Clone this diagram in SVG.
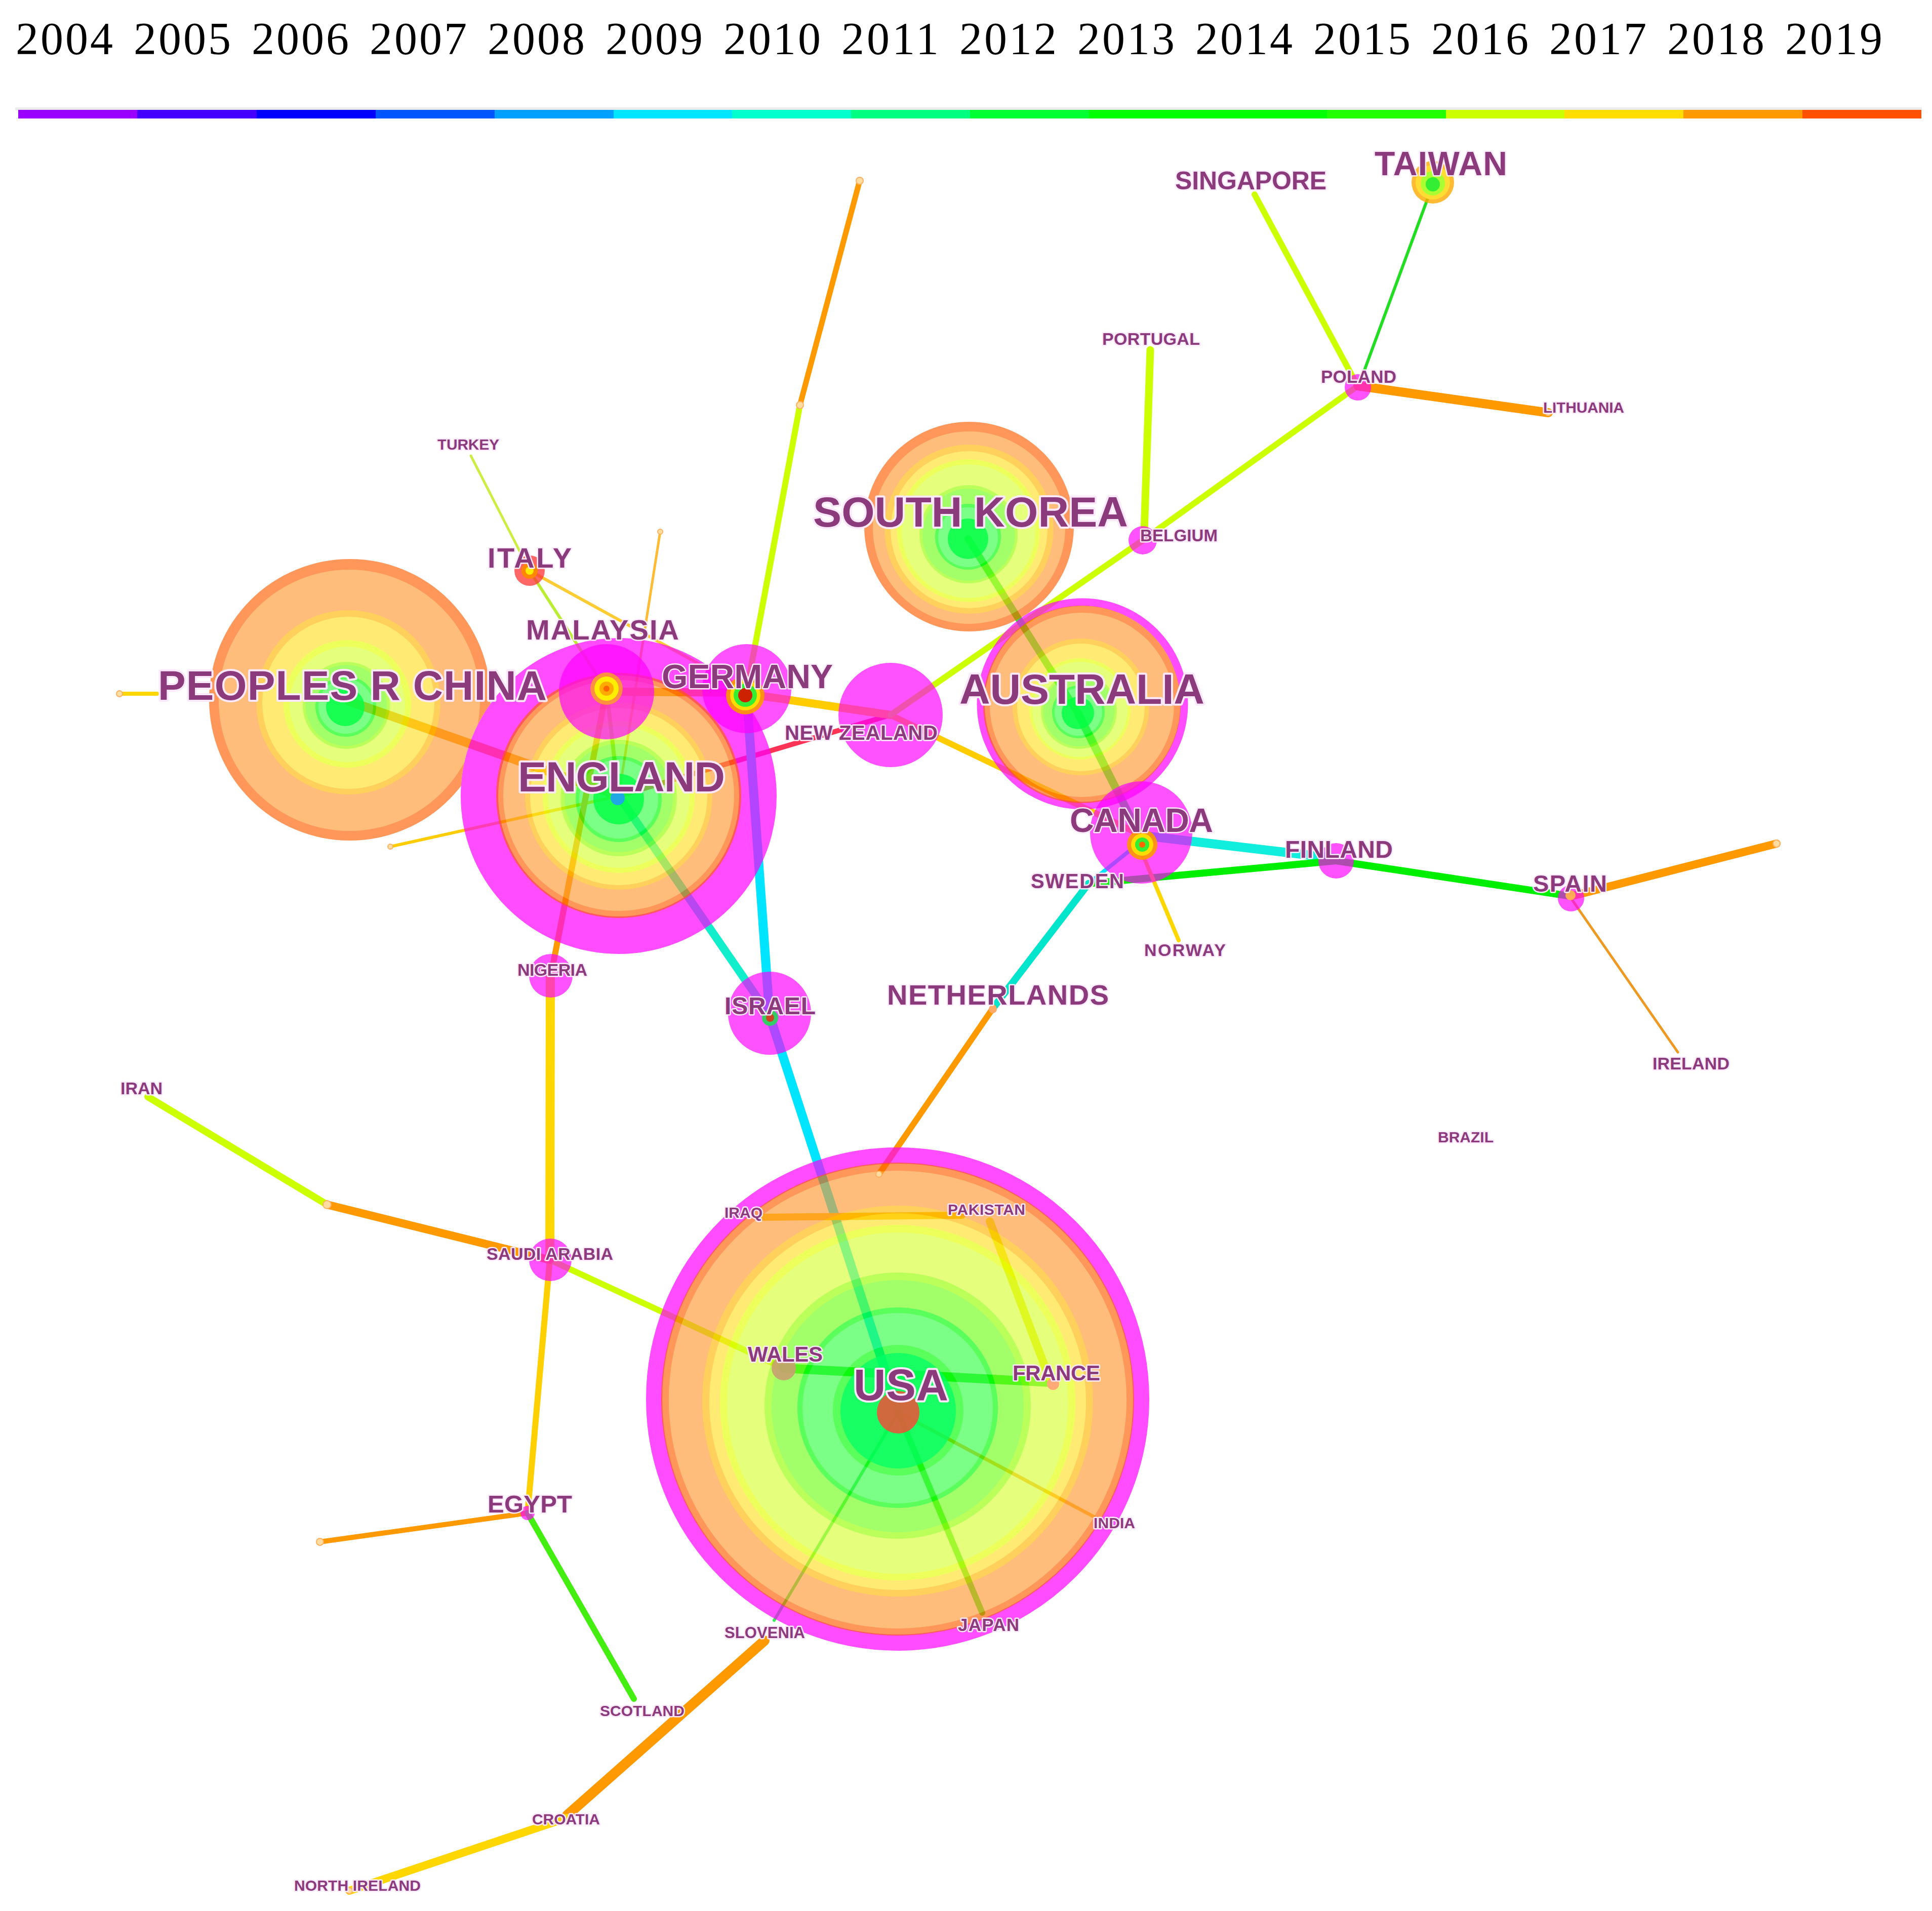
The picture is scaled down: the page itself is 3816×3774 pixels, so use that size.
<svg xmlns="http://www.w3.org/2000/svg" width="3816" height="3774" viewBox="0 0 3816 3774">
<style>
.yr{font-family:"Liberation Serif","DejaVu Serif",serif;font-size:90px;fill:#000;text-anchor:middle}
.lbl{font-family:"Liberation Sans",Arial,sans-serif;font-weight:bold;fill:#8b3a7c;stroke:#fbe9fb;stroke-width:5px;stroke-linejoin:round;paint-order:stroke}
.big{stroke-width:8px}
.ln{fill:none;stroke-linecap:round}
.mg{fill:#ff00ff;opacity:0.68}
.mga{fill:none;stroke:#ff00ff;opacity:0.7}
.rings{opacity:0.64}
.OR{fill:#ff5e00}.LO{fill:#ff9932}.YE{fill:#ffb600}.LY{fill:#ffe025}.YG{fill:#e4ff00}.PY{fill:#d7ff35}.LR{fill:#96ff00}.LG{fill:#6eff15}.GR{fill:#00ff00}.GB{fill:#33ff44}
.core{fill:#00ff44;opacity:0.8}
.dot{fill:#ffdca0;stroke:#ffb060;stroke-width:2px}
</style>
<defs>
<mask id="chinaMask" maskUnits="userSpaceOnUse" x="0" y="0" width="3816" height="3774">
<rect x="0" y="0" width="3816" height="3774" fill="#fff"/>
<circle cx="1222" cy="1572" r="312" fill="#000"/>
</mask>
</defs>
<rect width="3816" height="3774" fill="#fff"/>

<g id="legend">
<rect x="30" y="212" width="3766" height="6" fill="#ececec"/>
<rect x="36" y="217" width="236" height="17" fill="#9900ff"/>
<rect x="271" y="217" width="237" height="17" fill="#4400ff"/>
<rect x="507" y="217" width="236" height="17" fill="#0000ff"/>
<rect x="742" y="217" width="236" height="17" fill="#0055ff"/>
<rect x="977" y="217" width="236" height="17" fill="#00a0ff"/>
<rect x="1212" y="217" width="235" height="17" fill="#00e5ff"/>
<rect x="1446" y="217" width="236" height="17" fill="#00ffcc"/>
<rect x="1681" y="217" width="236" height="17" fill="#00ff80"/>
<rect x="1916" y="217" width="236" height="17" fill="#00ff33"/>
<rect x="2151" y="217" width="471" height="17" fill="#00ff00"/>
<rect x="2621" y="217" width="236" height="17" fill="#22ff00"/>
<rect x="2856" y="217" width="235" height="17" fill="#ccff00"/>
<rect x="3090" y="217" width="236" height="17" fill="#ffdd00"/>
<rect x="3325" y="217" width="236" height="17" fill="#ff9900"/>
<rect x="3560" y="217" width="235" height="17" fill="#ff5000"/>
<text class="yr" x="127" y="107" textLength="192">2004</text>
<text class="yr" x="360" y="107" textLength="192">2005</text>
<text class="yr" x="593" y="107" textLength="192">2006</text>
<text class="yr" x="826" y="107" textLength="192">2007</text>
<text class="yr" x="1059" y="107" textLength="192">2008</text>
<text class="yr" x="1292" y="107" textLength="192">2009</text>
<text class="yr" x="1525" y="107" textLength="192">2010</text>
<text class="yr" x="1758" y="107" textLength="192">2011</text>
<text class="yr" x="1991" y="107" textLength="192">2012</text>
<text class="yr" x="2224" y="107" textLength="192">2013</text>
<text class="yr" x="2457" y="107" textLength="192">2014</text>
<text class="yr" x="2690" y="107" textLength="192">2015</text>
<text class="yr" x="2923" y="107" textLength="192">2016</text>
<text class="yr" x="3156" y="107" textLength="192">2017</text>
<text class="yr" x="3389" y="107" textLength="192">2018</text>
<text class="yr" x="3622" y="107" textLength="192">2019</text>
</g>

<g id="connectors">
<line class="ln" x1="236" y1="1370" x2="310" y2="1370" stroke="#ffd700" stroke-width="8"/>
<line class="ln" x1="690" y1="1385" x2="1222" y2="1572" stroke="#ff9900" stroke-width="18"/>
<line class="ln" x1="1222" y1="1572" x2="771" y2="1672" stroke="#ffcc00" stroke-width="6"/>
<line class="ln" x1="1222" y1="1572" x2="1759" y2="1412" stroke="#ff3355" stroke-width="10"/>
<line class="ln" x1="1222" y1="1572" x2="1520" y2="2005" stroke="#11eecc" stroke-width="16"/>
<line class="ln" x1="1222" y1="1572" x2="1304" y2="1050" stroke="#ffbb33" stroke-width="5"/>
<line class="ln" x1="1198" y1="1363" x2="1088" y2="1927" stroke="#ff9900" stroke-width="12"/>
<line class="ln" x1="1198" y1="1363" x2="1222" y2="1572" stroke="#aadd33" stroke-width="8"/>
<line class="ln" x1="1046" y1="1127" x2="1198" y2="1363" stroke="#bbee33" stroke-width="6"/>
<line class="ln" x1="1046" y1="1127" x2="1475" y2="1363" stroke="#ffcc33" stroke-width="6"/>
<line class="ln" x1="930" y1="900" x2="1040" y2="1115" stroke="#ccee44" stroke-width="5"/>
<line class="ln" x1="1198" y1="1366" x2="1475" y2="1368" stroke="#ff9900" stroke-width="16"/>
<line class="ln" x1="1475" y1="1370" x2="1759" y2="1412" stroke="#ffcc00" stroke-width="16"/>
<line class="ln" x1="1759" y1="1412" x2="2256" y2="1650" stroke="#ffcc00" stroke-width="12"/>
<line class="ln" x1="1475" y1="1363" x2="1580" y2="800" stroke="#ccff00" stroke-width="12"/>
<line class="ln" x1="1580" y1="800" x2="1698" y2="357" stroke="#ff9900" stroke-width="11"/>
<line class="ln" x1="1475" y1="1375" x2="1520" y2="2005" stroke="#00e5ff" stroke-width="18"/>
<line class="ln" x1="1520" y1="2005" x2="1774" y2="2785" stroke="#00e5ff" stroke-width="18"/>
<line class="ln" x1="1759" y1="1412" x2="2257" y2="1067" stroke="#ccff00" stroke-width="12"/>
<line class="ln" x1="2257" y1="1067" x2="2682" y2="762" stroke="#ccff00" stroke-width="12"/>
<line class="ln" x1="2272" y1="691" x2="2260" y2="1050" stroke="#ccff00" stroke-width="15"/>
<line class="ln" x1="2478" y1="384" x2="2675" y2="750" stroke="#ccff00" stroke-width="12"/>
<line class="ln" x1="2828" y1="370" x2="2688" y2="750" stroke="#22dd22" stroke-width="6"/>
<line class="ln" x1="2682" y1="762" x2="3058" y2="815" stroke="#ff9900" stroke-width="18"/>
<line class="ln" x1="1912" y1="1064" x2="2129" y2="1408" stroke="#33ee33" stroke-width="14"/>
<line class="ln" x1="2129" y1="1408" x2="2256" y2="1660" stroke="#22ee44" stroke-width="16"/>
<line class="ln" x1="2256" y1="1650" x2="2639" y2="1695" stroke="#11eedd" stroke-width="18"/>
<line class="ln" x1="2150" y1="1745" x2="2639" y2="1700" stroke="#00ee00" stroke-width="14"/>
<line class="ln" x1="2639" y1="1700" x2="3103" y2="1770" stroke="#00ee00" stroke-width="14"/>
<line class="ln" x1="2256" y1="1660" x2="2150" y2="1745" stroke="#00e5ff" stroke-width="8"/>
<line class="ln" x1="2150" y1="1745" x2="1962" y2="1990" stroke="#00e5cc" stroke-width="14"/>
<line class="ln" x1="1962" y1="1990" x2="1736" y2="2319" stroke="#ff9900" stroke-width="12"/>
<line class="ln" x1="2258" y1="1690" x2="2328" y2="1857" stroke="#ffd700" stroke-width="8"/>
<line class="ln" x1="3103" y1="1770" x2="3509" y2="1666" stroke="#ff9900" stroke-width="16"/>
<line class="ln" x1="3103" y1="1774" x2="3314" y2="2078" stroke="#ee9922" stroke-width="5"/>
<line class="ln" x1="1087" y1="1927" x2="1086" y2="2488" stroke="#ffd700" stroke-width="18"/>
<line class="ln" x1="1086" y1="2488" x2="1042" y2="2988" stroke="#ffd000" stroke-width="12"/>
<line class="ln" x1="1086" y1="2488" x2="1548" y2="2702" stroke="#ccff00" stroke-width="12"/>
<line class="ln" x1="1086" y1="2488" x2="646" y2="2379" stroke="#ff9900" stroke-width="16"/>
<line class="ln" x1="646" y1="2379" x2="292" y2="2166" stroke="#ccff00" stroke-width="14"/>
<line class="ln" x1="1042" y1="2988" x2="632" y2="3045" stroke="#ff9900" stroke-width="10"/>
<line class="ln" x1="1042" y1="2988" x2="1252" y2="3355" stroke="#44ee11" stroke-width="12"/>
<line class="ln" x1="1548" y1="2702" x2="2075" y2="2730" stroke="#22ee22" stroke-width="18"/>
<line class="ln" x1="1500" y1="2404" x2="1900" y2="2400" stroke="#ffbb00" stroke-width="14"/>
<line class="ln" x1="1955" y1="2412" x2="2072" y2="2720" stroke="#eeee00" stroke-width="16"/>
<line class="ln" x1="1774" y1="2789" x2="2160" y2="2995" stroke="#ffaa22" stroke-width="7"/>
<line class="ln" x1="1774" y1="2789" x2="1940" y2="3185" stroke="#44ee22" stroke-width="12"/>
<line class="ln" x1="1774" y1="2789" x2="1529" y2="3200" stroke="#33ee55" stroke-width="6"/>
<line class="ln" x1="1510" y1="3240" x2="1120" y2="3585" stroke="#ff9900" stroke-width="20"/>
<line class="ln" x1="1120" y1="3590" x2="690" y2="3734" stroke="#ffd700" stroke-width="16"/>
</g>

<g id="nodes">
<g id="node-usa">
<circle class="mga" cx="1773" cy="2763" r="481" stroke-width="32"/>
<g class="rings">
<circle class="OR" cx="1773" cy="2763" r="467"/>
<circle class="LO" cx="1773" cy="2764" r="452"/>
<circle class="YE" cx="1773" cy="2767" r="386"/>
<circle class="LY" cx="1773" cy="2768" r="372"/>
<circle class="YG" cx="1773" cy="2770" r="351"/>
<circle class="PY" cx="1773" cy="2771" r="337"/>
<circle class="LR" cx="1773" cy="2776" r="263"/>
<circle class="LG" cx="1773" cy="2777" r="249"/>
<circle class="GR" cx="1773" cy="2780" r="198"/>
<circle class="GB" cx="1773" cy="2781" r="188"/>
<circle class="GR" cx="1774" cy="2785" r="129"/>
</g>
<circle cx="1774" cy="2786" r="114" fill="#00ff66" opacity="0.75"/>
<circle cx="1774" cy="2789" r="42" fill="#ff4433" opacity="0.8"/>
<text class="lbl big" x="1686" y="2765" font-size="88" textLength="187">USA</text>
</g>

<g id="node-england">
<circle class="mga" cx="1222" cy="1572" r="275" stroke-width="74"/>
<g class="rings">
<circle class="OR" cx="1222" cy="1571" r="242"/>
<circle class="LO" cx="1222" cy="1571" r="228"/>
<circle class="YE" cx="1222" cy="1572" r="185"/>
<circle class="LY" cx="1222" cy="1573" r="175"/>
<circle class="YG" cx="1222" cy="1574" r="150"/>
<circle class="PY" cx="1222" cy="1574" r="140"/>
<circle class="LR" cx="1222" cy="1576" r="115"/>
<circle class="LG" cx="1222" cy="1576" r="107"/>
<circle class="GR" cx="1222" cy="1578" r="85"/>
<circle class="GB" cx="1222" cy="1578" r="78"/>
</g>
<circle class="core" cx="1222" cy="1578" r="50"/>
<circle cx="1220" cy="1576" r="14" fill="#2299ff" opacity="0.85"/>
<text class="lbl big" x="1023" y="1563" font-size="84" textLength="409">ENGLAND</text>
</g>

<g id="node-china">
<g class="rings" mask="url(#chinaMask)">
<circle class="OR" cx="691" cy="1382" r="278"/>
<circle class="LO" cx="690" cy="1383" r="258"/>
<circle class="YE" cx="688" cy="1387" r="182"/>
<circle class="LY" cx="688" cy="1388" r="170"/>
<circle class="YG" cx="686" cy="1390" r="126"/>
<circle class="PY" cx="686" cy="1391" r="114"/>
<circle class="LR" cx="684" cy="1393" r="86"/>
<circle class="LG" cx="684" cy="1393" r="80"/>
<circle class="GR" cx="683" cy="1395" r="60"/>
<circle class="GB" cx="683" cy="1395" r="54"/>
</g>
<circle class="core" cx="682" cy="1396" r="38"/>
<text class="lbl big" x="312" y="1382" font-size="82" textLength="768">PEOPLES R CHINA</text>
</g>

<g id="node-malaysia">
<circle class="mg" cx="1198" cy="1366" r="94"/>
<circle cx="1198" cy="1360" r="32" fill="#ff9933" opacity="0.9"/>
<circle cx="1198" cy="1360" r="24" fill="#ffee00"/>
<circle cx="1198" cy="1360" r="14" fill="#ffaa00"/>
<circle cx="1198" cy="1360" r="6" fill="#ff6600"/>
<text class="lbl" x="1039" y="1263" font-size="56" textLength="302">MALAYSIA</text>
</g>

<g id="node-germany">
<circle class="mg" cx="1475" cy="1360" r="88"/>
<circle cx="1472" cy="1373" r="38" fill="#ff9900" opacity="0.9"/>
<circle cx="1472" cy="1373" r="30" fill="#ffdd00"/>
<circle cx="1472" cy="1373" r="23" fill="#33ee33"/>
<circle cx="1472" cy="1373" r="14" fill="#cc2200"/>
<text class="lbl" x="1307" y="1359" font-size="66" textLength="338">GERMANY</text>
</g>

<g id="node-italy">
<circle cx="1046" cy="1127" r="30" fill="#ff3333" opacity="0.75"/>
<circle cx="1046" cy="1127" r="16" fill="#ff8800"/>
<circle cx="1046" cy="1127" r="8" fill="#ffee00"/>
<text class="lbl" x="963" y="1121" font-size="56" textLength="166">ITALY</text>
</g>

<g id="node-new-zealand">
<circle class="mg" cx="1759" cy="1412" r="103"/>
<text class="lbl" x="1550" y="1461" font-size="40" textLength="302">NEW ZEALAND</text>
</g>

<g id="node-south-korea">
<g class="rings">
<circle class="OR" cx="1914" cy="1040" r="207"/>
<circle class="LO" cx="1914" cy="1042" r="190"/>
<circle class="YE" cx="1914" cy="1045" r="167"/>
<circle class="LY" cx="1914" cy="1046" r="155"/>
<circle class="YG" cx="1913" cy="1048" r="141"/>
<circle class="PY" cx="1913" cy="1049" r="132"/>
<circle class="LR" cx="1913" cy="1055" r="97"/>
<circle class="LG" cx="1913" cy="1056" r="91"/>
<circle class="GR" cx="1912" cy="1060" r="65"/>
<circle class="GB" cx="1912" cy="1061" r="59"/>
</g>
<circle class="core" cx="1912" cy="1064" r="40"/>
<text class="lbl big" x="1606" y="1040" font-size="84" textLength="622">SOUTH KOREA</text>
</g>

<g id="node-australia">
<circle class="mga" cx="2138" cy="1390" r="201" stroke-width="15"/>
<g class="rings">
<circle class="OR" cx="2137" cy="1391" r="195"/>
<circle class="LO" cx="2137" cy="1392" r="182"/>
<circle class="YE" cx="2135" cy="1396" r="135"/>
<circle class="LY" cx="2135" cy="1397" r="126"/>
<circle class="YG" cx="2133" cy="1400" r="100"/>
<circle class="PY" cx="2133" cy="1401" r="94"/>
<circle class="LR" cx="2131" cy="1404" r="75"/>
<circle class="LG" cx="2131" cy="1404" r="70"/>
<circle class="GR" cx="2130" cy="1406" r="52"/>
<circle class="GB" cx="2130" cy="1406" r="47"/>
</g>
<circle class="core" cx="2129" cy="1408" r="32"/>
<text class="lbl big" x="1895" y="1390" font-size="84" textLength="484">AUSTRALIA</text>
</g>

<g id="node-canada">
<circle class="mg" cx="2254" cy="1644" r="101"/>
<circle cx="2256" cy="1668" r="30" fill="#ff9900" opacity="0.9"/>
<circle cx="2256" cy="1668" r="22" fill="#ffdd00"/>
<circle cx="2256" cy="1668" r="14" fill="#33ee33"/>
<circle cx="2256" cy="1668" r="6" fill="#ff6600"/>
<text class="lbl" x="2113" y="1643" font-size="66" textLength="283">CANADA</text>
</g>

<g id="node-israel">
<circle class="mg" cx="1520" cy="2001" r="82"/>
<circle cx="1521" cy="2010" r="16" fill="#33cc66"/>
<circle cx="1521" cy="2010" r="8" fill="#cc4422"/>
<text class="lbl" x="1431" y="2003" font-size="48" textLength="180">ISRAEL</text>
</g>

<g id="node-nigeria">
<circle class="mg" cx="1088" cy="1927" r="43"/>
<text class="lbl" x="1022" y="1927" font-size="34" textLength="138">NIGERIA</text>
</g>

<g id="node-saudi-arabia">
<circle class="mg" cx="1087" cy="2488" r="42"/>
<text class="lbl" x="961" y="2488" font-size="34" textLength="250">SAUDI ARABIA</text>
</g>

<g id="node-egypt">
<circle class="mg" cx="1042" cy="2988" r="14"/>
<text class="lbl" x="963" y="2987" font-size="49" textLength="167">EGYPT</text>
</g>

<g id="node-finland">
<circle class="mg" cx="2639" cy="1700" r="35"/>
<text class="lbl" x="2538" y="1694" font-size="48" textLength="213">FINLAND</text>
</g>

<g id="node-spain">
<circle class="mg" cx="3103" cy="1774" r="26"/>
<circle cx="3102" cy="1768" r="10" fill="#ffaa55"/>
<text class="lbl" x="3028" y="1761" font-size="47" textLength="146">SPAIN</text>
</g>

<g id="node-belgium">
<circle class="mg" cx="2257" cy="1067" r="28"/>
<text class="lbl" x="2252" y="1069" font-size="33" textLength="153">BELGIUM</text>
</g>

<g id="node-poland">
<circle class="mg" cx="2682" cy="765" r="26"/>
<text class="lbl" x="2609" y="756" font-size="35" textLength="149">POLAND</text>
</g>

<g id="node-taiwan">
<circle cx="2830" cy="360" r="42" fill="#ffaa00" opacity="0.8"/>
<circle cx="2830" cy="360" r="34" fill="#ffdd33"/>
<circle cx="2830" cy="362" r="24" fill="#aaff33"/>
<circle cx="2830" cy="364" r="14" fill="#33ee33"/>
<text class="lbl" x="2715" y="346" font-size="66" textLength="262">TAIWAN</text>
</g>

<g id="node-singapore"><text class="lbl" x="2321" y="374" font-size="50" textLength="299">SINGAPORE</text></g>
<g id="node-portugal"><text class="lbl" x="2177" y="681" font-size="34" textLength="193">PORTUGAL</text></g>
<g id="node-lithuania"><circle class="dot" cx="3058" cy="815" r="6"/><text class="lbl" x="3048" y="815" font-size="30" textLength="160">LITHUANIA</text></g>
<g id="node-sweden"><text class="lbl" x="2036" y="1754" font-size="40" textLength="184">SWEDEN</text></g>
<g id="node-norway"><text class="lbl" x="2260" y="1888" font-size="34" textLength="161">NORWAY</text></g>
<g id="node-ireland"><text class="lbl" x="3264" y="2112" font-size="34" textLength="152">IRELAND</text></g>
<g id="node-netherlands"><circle cx="1961" cy="1993" r="8" fill="#ffaa66"/><text class="lbl" x="1752" y="1984" font-size="56" textLength="438">NETHERLANDS</text></g>
<g id="node-iran"><text class="lbl" x="238" y="2161" font-size="34" textLength="83">IRAN</text></g>
<g id="node-scotland"><text class="lbl" x="1185" y="3389" font-size="30" textLength="167">SCOTLAND</text></g>
<g id="node-croatia"><text class="lbl" x="1051" y="3603" font-size="30" textLength="134">CROATIA</text></g>
<g id="node-north-ireland"><circle class="dot" cx="690" cy="3734" r="6"/><text class="lbl" x="581" y="3734" font-size="30" textLength="250">NORTH IRELAND</text></g>
<g id="node-wales"><circle cx="1548" cy="2702" r="24" fill="#c8a070" opacity="0.9"/><text class="lbl" x="1477" y="2689" font-size="42" textLength="148">WALES</text></g>
<g id="node-france"><circle cx="2080" cy="2733" r="12" fill="#ffaa77"/><text class="lbl" x="2000" y="2726" font-size="42" textLength="173">FRANCE</text></g>
<g id="node-iraq"><text class="lbl" x="1431" y="2405" font-size="30" textLength="75">IRAQ</text></g>
<g id="node-pakistan"><text class="lbl" x="1872" y="2399" font-size="30" textLength="153">PAKISTAN</text></g>
<g id="node-india"><text class="lbl" x="2160" y="3018" font-size="30" textLength="82">INDIA</text></g>
<g id="node-japan"><text class="lbl" x="1892" y="3221" font-size="35" textLength="121">JAPAN</text></g>
<g id="node-slovenia"><text class="lbl" x="1431" y="3235" font-size="31" textLength="159">SLOVENIA</text></g>
<g id="node-turkey"><text class="lbl" x="864" y="888" font-size="30" textLength="122">TURKEY</text></g>
<g id="node-brazil"><text class="lbl" x="2840" y="2256" font-size="30" textLength="110">BRAZIL</text></g>

<g id="node-end-1"><circle class="dot" cx="236" cy="1370" r="6"/></g>
<g id="node-end-2"><circle class="dot" cx="771" cy="1672" r="5"/></g>
<g id="node-end-3"><circle class="dot" cx="1304" cy="1050" r="5"/></g>
<g id="node-end-4"><circle class="dot" cx="1698" cy="357" r="7"/></g>
<g id="node-end-5"><circle class="dot" cx="1580" cy="800" r="7"/></g>
<g id="node-end-6"><circle class="dot" cx="646" cy="2379" r="8"/></g>
<g id="node-end-7"><circle class="dot" cx="632" cy="3045" r="7"/></g>
<g id="node-end-8"><circle class="dot" cx="3509" cy="1666" r="7"/></g>
<g id="node-end-9"><circle class="dot" cx="1736" cy="2319" r="6"/></g>
</g>
</svg>
